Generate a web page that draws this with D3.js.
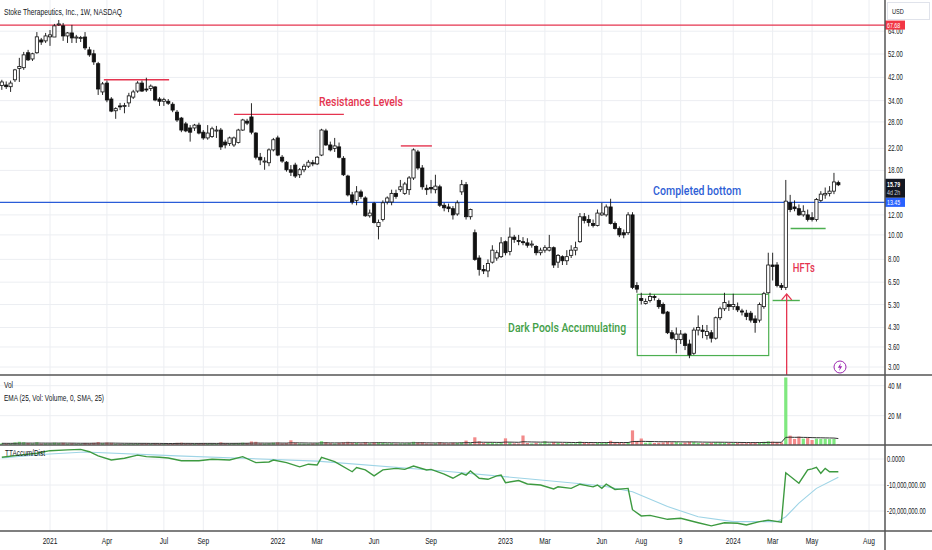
<!DOCTYPE html>
<html>
<head>
<meta charset="utf-8">
<script src="https://cdn.jsdelivr.net/npm/d3@7"></script>
<style>
  body { margin: 0; background: #fff; }
  svg { display: block; }
  text { font-family: "Liberation Sans", Arial, sans-serif; }
  .note { font-family: Roboto, "Liberation Sans", sans-serif; font-weight: 500; }
</style>
</head>
<body>
<svg id="chart" width="932" height="550"></svg>
<script>

// weekly bars, the first one is the week of 2020-10-19
var firstWeek = Date.UTC(2020, 9, 19)

// [open, high, low, close]
var candles = [
  [39.0,41.1,37.5,40.3],[39.2,40.5,37.8,38.6],[38.6,40.8,36.8,39.9],[41.1,45.4,40.3,45.0],[45.6,50.2,40.3,46.4],
  [45.9,53.0,45.0,51.6],[52.6,54.0,48.8,49.3],[49.7,52.6,48.8,52.1],[52.6,63.5,52.1,60.8],[59.1,60.2,56.5,58.0],
  [58.6,63.0,57.5,61.3],[60.8,64.7,56.0,61.9],[60.7,68.4,60.7,67.2],[67.8,70.9,67.2,68.4],[67.2,69.0,58.6,61.3],
  [61.3,63.5,57.5,63.0],[63.0,67.8,57.5,60.2],[60.2,61.9,57.5,60.7],[60.0,61.3,58.0,60.4],[60.7,63.5,54.0,55.0],
  [54.0,55.5,50.7,51.6],[52.1,54.0,47.1,48.4],[47.6,48.4,35.8,37.8],[36.8,40.3,35.8,39.6],[39.9,40.8,33.5,34.2],
  [34.5,35.1,30.6,30.9],[31.0,32.0,28.8,31.6],[32.4,33.3,31.2,32.3],[32.2,33.3,30.3,32.5],[33.3,36.5,32.1,35.5],
  [35.1,37.5,34.5,36.8],[37.1,40.6,36.5,39.9],[39.9,40.8,36.8,37.1],[37.8,41.9,36.8,37.6],[38.0,39.4,37.1,38.8],
  [38.5,38.8,33.8,34.2],[34.5,35.1,32.4,33.8],[33.8,34.9,32.4,34.3],[33.8,34.5,32.7,33.2],[32.9,33.5,30.6,31.2],
  [30.6,31.2,28.0,28.5],[29.0,29.3,25.5,26.0],[27.5,28.0,25.5,25.8],[26.5,27.2,23.4,25.5],[26.5,27.5,25.8,27.2],
  [27.2,27.8,25.0,25.3],[25.5,26.0,23.8,24.2],[24.2,27.2,23.8,25.3],[24.5,26.8,24.2,26.3],[25.8,27.0,24.2,26.0],
  [26.0,26.5,21.7,22.3],[23.3,23.8,22.0,22.7],[23.0,24.5,22.5,24.2],[22.7,24.5,22.3,24.2],[23.2,26.3,23.0,26.0],
  [26.0,28.8,25.8,28.5],[28.2,28.8,27.2,27.7],[29.3,33.2,25.0,25.5],[25.3,25.5,19.9,20.3],[20.3,21.1,18.9,19.8],
  [19.6,20.3,18.1,19.6],[19.3,22.0,18.7,21.7],[21.7,24.2,21.4,23.8],[24.2,24.7,20.5,20.7],[20.3,20.7,19.3,19.6],
  [19.4,19.6,17.8,18.1],[18.1,18.9,17.1,17.7],[18.9,19.3,16.8,17.1],[17.3,18.4,16.8,18.1],[18.1,19.1,17.7,18.7],
  [18.7,19.8,18.4,19.4],[19.3,19.8,18.7,19.1],[19.1,20.5,18.9,20.3],[20.7,26.3,20.5,26.0],[25.8,26.3,22.5,22.7],
  [22.7,23.4,21.4,21.7],[22.0,24.2,21.3,22.5],[22.3,23.2,20.1,20.3],[20.1,20.5,17.1,17.3],[17.1,17.3,14.2,14.4],
  [14.4,14.8,13.2,13.5],[13.7,15.6,13.1,14.8],[14.8,15.1,13.9,14.2],[14.0,14.2,11.8,11.9],[11.9,12.6,11.7,12.2],
  [13.3,13.5,11.1,11.2],[10.8,11.5,9.6,11.2],[11.5,13.7,11.3,13.4],[13.5,14.2,13.2,14.0],[13.5,15.1,13.1,14.6],
  [14.6,15.1,13.9,14.2],[15.1,16.5,14.8,15.5],[14.6,16.2,14.4,15.9],[15.1,17.1,14.4,16.8],[16.8,22.0,16.5,21.7],
  [21.3,21.7,18.1,18.4],[18.4,18.9,15.1,15.5],[15.3,15.8,14.4,15.1],[15.4,16.5,14.6,15.2],[15.1,17.3,14.6,15.6],
  [15.5,15.8,12.9,13.1],[13.1,13.4,12.4,12.8],[12.9,13.3,12.3,12.7],[12.7,13.0,11.5,12.0],[12.1,13.7,11.9,13.4],
  [14.8,16.5,14.4,15.8],[15.8,16.2,11.5,11.8],[11.8,12.7,11.5,12.6],[10.2,10.5,7.9,8.0],[8.1,8.3,6.9,7.3],
  [7.3,7.6,7.0,7.2],[7.2,8.0,6.8,7.7],[7.8,9.1,7.7,8.7],[8.1,8.7,7.9,8.5],[8.2,9.8,8.1,9.3],
  [9.4,9.5,8.3,8.5],[8.6,10.7,8.3,9.8],[9.8,10.0,9.3,9.6],[9.5,10.0,9.1,9.45],[9.4,9.8,9.1,9.35],
  [9.3,9.7,8.9,9.1],[9.2,9.5,8.9,9.2],[9.0,9.1,8.3,8.5],[8.5,8.9,8.3,8.7],[8.7,9.1,8.5,8.9],
  [8.7,10.0,8.6,8.9],[8.9,9.0,7.4,7.6],[7.8,8.4,7.4,8.3],[8.2,8.3,7.6,7.9],[7.9,8.7,7.6,8.2],
  [8.3,9.1,8.1,8.7],[8.7,9.4,8.3,8.9],[9.4,12.2,9.3,11.8],[11.8,12.2,11.1,11.4],[11.5,12.0,10.8,11.2],
  [11.1,11.5,10.7,10.9],[10.9,12.6,10.8,12.2],[12.0,13.4,11.9,12.2],[12.0,13.2,11.8,12.9],[12.9,13.9,11.0,11.1],
  [11.1,11.3,10.5,10.6],[10.6,10.8,9.8,10.0],[10.2,10.5,9.7,10.0],[10.2,12.3,10.0,12.0],[12.0,12.3,6.1,6.2],
  [6.3,6.5,5.9,6.1],[5.6,5.9,5.3,5.5],[5.35,5.6,5.3,5.45],[5.5,5.9,5.4,5.7],[5.7,5.8,5.5,5.65],
  [5.5,5.6,5.1,5.2],[5.3,5.4,4.85,4.9],[4.95,5.0,4.05,4.1],[4.1,4.2,3.85,3.9],[3.85,4.3,3.4,4.05],
  [3.85,4.2,3.7,4.05],[4.05,4.1,3.5,3.65],[3.7,3.85,3.25,3.35],[3.4,4.3,3.35,4.2],[4.2,4.8,4.0,4.3],
  [4.2,4.4,3.9,4.15],[4.0,4.4,3.85,4.15],[4.1,4.2,3.75,3.9],[3.9,4.75,3.85,4.7],[4.7,5.2,4.6,5.1],
  [5.1,5.9,5.0,5.4],[5.3,5.5,5.0,5.2],[5.2,5.85,5.05,5.3],[5.2,5.4,4.95,5.05],[5.0,5.1,4.8,4.95],
  [4.9,5.05,4.6,4.75],[4.9,5.0,4.5,4.6],[4.65,4.8,4.1,4.5],[4.6,5.4,4.5,5.3],[5.2,5.95,5.1,5.85],
  [5.9,8.5,5.85,7.6],[7.6,8.5,6.6,7.5],[7.6,7.8,6.2,6.3],[6.3,6.45,6.05,6.2],[6.2,16.5,6.05,13.6],
  [13.4,14.4,12.3,12.6],[12.9,13.7,12.4,12.7],[12.7,13.2,11.9,12.0],[12.0,13.1,11.8,12.4],[12.0,12.6,11.3,11.5],
  [11.7,12.3,11.3,11.5],[11.5,14.0,11.3,13.8],[13.7,14.9,13.5,14.5],[14.4,15.4,13.9,14.6],[14.6,15.6,14.2,14.9],
  [14.9,17.6,14.5,16.2],[16.1,16.4,15.6,15.79]
]

// weekly volume, millions
var volumes = [
  1.6,1.3,1.4,2.2,2.6,2.3,1.8,1.5,2.3,1.4, 1.6,1.5,2.0,1.7,1.9,1.3,1.6,1.2,1.1,1.8,
  1.5,1.9,2.4,1.6,2.1,1.9,1.3,1.1,1.2,1.4, 1.3,1.5,1.4,1.6,1.2,1.7,1.3,1.1,1.2,1.5,
  1.9,2.0,1.6,1.5,1.3,1.5,1.7,1.6,1.5,1.3, 2.2,1.5,1.4,1.6,1.8,2.0,1.7,2.8,2.6,1.6,
  1.4,1.6,2.0,2.2,1.5,1.7,3.6,2.0,1.5,1.4, 1.3,1.5,1.7,3.0,2.4,1.7,1.4,1.9,2.3,2.6,
  2.0,1.9,1.5,2.4,1.6,2.2,2.3,2.0,1.6,1.7, 1.4,1.5,1.6,1.9,2.6,2.2,2.3,1.5,1.4,1.6,
  2.4,1.7,1.5,2.0,1.9,2.3,3.4,1.7,5.6,3.0, 1.9,2.0,2.2,1.6,2.0,4.9,2.2,1.6,1.5,6.8,
  1.8,1.5,2.0,1.6,3.0,1.5,2.4,1.9,1.6,1.7, 1.5,1.6,2.8,2.1,1.7,1.5,2.0,1.9,2.2,3.3,
  2.0,1.9,1.6,2.4,10.2,3.2,4.8,2.0,2.2,1.8, 2.0,2.2,2.8,2.3,2.4,2.0,2.1,2.6,2.4,1.9,
  1.7,1.8,2.0,2.3,2.2,2.0,1.8,1.7,1.9,1.6, 1.7,1.8,1.9,2.4,2.6,3.0,2.7,2.4,2.2,45.5,
  6.7,4.5,6.1,4.7,5.1,3.8,4.7,4.5,4.6,4.4, 4.5,0.9
]

// TTAccum/Dist, [week index, millions]
var accum = [
  [0,0.65],[4,1.5],[8,2.2],[11,3.2],[15,3.5],[18,3.7],[20,2.8],[22,1.2],[25,-0.4],[28,0.3],
  [31,1.5],[33,0.9],[36,0.65],[38,0.4],[41,-0.65],[45,-0.65],[48,-0.1],[52,-0.4],[55,0.9],[58,-1.4],
  [61,-1.15],[62,-0.4],[65,-1.4],[68,-3.0],[70,-2.0],[72,-2.3],[73,0.65],[76,-1.0],[80,-4.9],[81,-3.3],
  [83,-4.2],[85,-6.5],[87,-4.2],[90,-3.6],[92,-4.0],[94,-2.7],[97,-4.2],[98,-4.0],[101,-5.8],[103,-7.4],
  [105,-5.5],[106,-6.2],[107,-4.6],[109,-7.4],[111,-7.8],[113,-6.5],[114,-6.2],[115,-9.1],[118,-8.3],[120,-9.6],
  [123,-10.0],[126,-11.5],[127,-10.7],[130,-11.3],[132,-9.7],[135,-10.7],[136,-10.0],[137,-11.3],[138,-9.7],[140,-11.7],
  [143,-11.3],[144,-19.5],[146,-21.9],[148,-21.7],[152,-23.2],[155,-22.8],[159,-24.5],[162,-25.7],[165,-24.5],[168,-24.7],
  [170,-25.4],[173,-24.1],[175,-23.5],[178,-24.3],[179,-5.3],[182,-9.3],[184,-4.2],[185,-3.8],[186,-3.2],[187,-5.5],
  [188,-3.6],[189,-4.9],[191,-4.9]
]

// its slow average (light blue)
var accumAvg = [
  [0,0.4],[10,1.8],[19,2.7],[40,1.2],[72,-0.8],[100,-4.5],[120,-7.6],[137,-10.3],[144,-12.6],[152,-18.3],
  [159,-22.2],[167,-24.1],[177,-24.1],[179,-22.2],[182,-17.0],[186,-11.3],[191,-7.0]
]

var priceTicks = [64, 52, 42, 34, 28, 22, 18, 12, 10, 8, 6.5, 5.3, 4.3, 3.6, 3.0]
var volTicks = [40, 20]
var accumTicks = [0, -10, -20]
var timeTicks = [
  [[2021,0,4],"2021"],[[2021,3,5],"Apr"],[[2021,6,5],"Jul"],[[2021,8,6],"Sep"],
  [[2022,0,3],"2022"],[[2022,2,7],"Mar"],[[2022,5,6],"Jun"],[[2022,8,5],"Sep"],
  [[2023,0,2],"2023"],[[2023,2,6],"Mar"],[[2023,5,5],"Jun"],[[2023,7,7],"Aug"],[[2023,9,9],"9"],
  [[2024,0,1],"2024"],[[2024,2,4],"Mar"],[[2024,4,6],"May"],[[2024,7,5],"Aug"]
]

// drawn levels and notes: week index + price
var topLevel = 67.68
var bottomLevel = 13.45
var lastPrice = 15.79
var resistance = [[23.3, 38.2, 41.1], [53, 78.1, 30.0], [91.1, 98.2, 22.5]]
var supports = [[176, 182.2, 5.5], [180.1, 188.1, 10.6]]
var accumBox = [145.1, 175.1, 5.82, 3.33]
var arrowWeek = 179.2, arrowTip = 5.84
var notes = [
  {text: "Resistance Levels", week: 72.4, price: 32.4, w: 84, color: "#e5344f"},
  {text: "Completed bottom", week: 148.7, price: 14.4, w: 88, color: "#2f5fd6"},
  {text: "HFTs", week: 180.6, price: 7.1, w: 22, color: "#e5344f"},
  {text: "Dark Pools Accumulating", week: 115.6, price: 4.13, w: 118, color: "#43a047"}
]

var svg = d3.select("#chart")
var axisX = 885, W = 932
var red = "#e5344f", blue = "#2a5cd8", green = "#4caf50"

var x = d3.scaleUtc().domain([Date.UTC(2021,0,4), Date.UTC(2024,7,5)]).range([50, 869])
var y = d3.scaleLog().domain([3, 52]).range([367, 54])
var yv = d3.scaleLinear().domain([0, 40]).range([445.7, 385.7])
var ya = d3.scaleLinear().domain([0, -20]).range([459, 511])

function wx(i) { return x(new Date(firstWeek + i * 7 * 864e5)) }

function label(g, str, px, py, o) {
  var t = g.append("text").text(str)
    .attr("transform", "translate(" + px + "," + py + ") scale(" + (o.sx || 0.74) + ",1)")
    .style("font-size", o.size + "px")
    .attr("fill", o.color || "#131722")
  if (o.anchor) t.attr("text-anchor", o.anchor)
  if (o.weight) t.style("font-weight", o.weight)
  return t
}

function fitted(g, str, px, py, o) {
  return g.append("text").text(str).attr("x", px).attr("y", py)
    .attr("textLength", o.w).attr("lengthAdjust", "spacingAndGlyphs")
    .style("font-size", o.size + "px").attr("fill", o.color || "#131722")
}

// clips for the three panes
var defs = svg.append("defs")
defs.append("clipPath").attr("id", "cMain").append("rect").attr("x", 0).attr("y", 0).attr("width", axisX).attr("height", 375)
defs.append("clipPath").attr("id", "cVol").append("rect").attr("x", 0).attr("y", 375).attr("width", axisX).attr("height", 70)
defs.append("clipPath").attr("id", "cAcc").append("rect").attr("x", 0).attr("y", 445).attr("width", axisX).attr("height", 86)

// grid
var grid = svg.append("g").attr("stroke", "#eceef2").attr("stroke-width", 1)
timeTicks.forEach(function(d) {
  var tx = x(new Date(Date.UTC(d[0][0], d[0][1], d[0][2])))
  grid.append("line").attr("x1", tx).attr("x2", tx).attr("y1", 0).attr("y2", 531)
})
priceTicks.forEach(function(p) {
  grid.append("line").attr("x1", 0).attr("x2", axisX).attr("y1", y(p)).attr("y2", y(p))
})
volTicks.forEach(function(v) {
  grid.append("line").attr("x1", 0).attr("x2", axisX).attr("y1", yv(v)).attr("y2", yv(v))
})
accumTicks.forEach(function(v) {
  grid.append("line").attr("x1", 0).attr("x2", axisX).attr("y1", ya(v)).attr("y2", ya(v))
})

// *** main pane ***
var main = svg.append("g").attr("clip-path", "url(#cMain)")

main.append("line").attr("x1", 0).attr("x2", axisX).attr("y1", y(topLevel)).attr("y2", y(topLevel))
  .attr("stroke", red).attr("stroke-width", 1.4)
main.append("line").attr("x1", 0).attr("x2", axisX).attr("y1", y(bottomLevel)).attr("y2", y(bottomLevel))
  .attr("stroke", blue).attr("stroke-width", 1.4)

resistance.forEach(function(d) {
  main.append("line").attr("x1", wx(d[0])).attr("x2", wx(d[1])).attr("y1", y(d[2])).attr("y2", y(d[2]))
    .attr("stroke", red).attr("stroke-width", 1.4)
})
supports.forEach(function(d) {
  main.append("line").attr("x1", wx(d[0])).attr("x2", wx(d[1])).attr("y1", y(d[2])).attr("y2", y(d[2]))
    .attr("stroke", green).attr("stroke-width", 1.4)
})
main.append("rect")
  .attr("x", wx(accumBox[0])).attr("y", y(accumBox[2]))
  .attr("width", wx(accumBox[1]) - wx(accumBox[0])).attr("height", y(accumBox[3]) - y(accumBox[2]))
  .attr("fill", "none").attr("stroke", green).attr("stroke-width", 1.2)

// candles
var bars = main.selectAll(".candle").data(candles).enter().append("g").attr("class", "candle")
bars.append("line")
  .attr("x1", function(d, i) { return wx(i) }).attr("x2", function(d, i) { return wx(i) })
  .attr("y1", function(d) { return y(d[1]) }).attr("y2", function(d) { return y(d[2]) })
  .attr("stroke", "#111").attr("stroke-width", 0.9)
bars.append("rect")
  .attr("x", function(d, i) { return wx(i) - 1.6 })
  .attr("width", 3.2)
  .attr("y", function(d) { return y(Math.max(d[0], d[3])) })
  .attr("height", function(d) { return Math.max(1, Math.abs(y(d[0]) - y(d[3]))) })
  .attr("fill", function(d) { return d[3] >= d[0] ? "#fff" : "#111" })
  .attr("stroke", "#111").attr("stroke-width", 0.8)

// arrow under the breakout week
var ax = wx(arrowWeek), ay = y(arrowTip)
main.append("line").attr("x1", ax).attr("x2", ax).attr("y1", ay).attr("y2", 375)
  .attr("stroke", red).attr("stroke-width", 1.3)
main.append("path").attr("d", "M" + (ax - 5) + "," + (ay + 6) + "L" + ax + "," + ay + "L" + (ax + 5) + "," + (ay + 6))
  .attr("fill", "none").attr("stroke", red).attr("stroke-width", 1.3)

notes.forEach(function(n) {
  fitted(main, n.text, wx(n.week), y(n.price), {w: n.w, size: 13, color: n.color}).attr("class", "note")
})

// lightning badge
var badge = main.append("g").attr("transform", "translate(840,367)")
badge.append("circle").attr("r", 6).attr("fill", "#fff").attr("stroke", "#9c27b0").attr("stroke-width", 1)
badge.append("path").attr("d", "M0.9,-3.9 L-2.2,0.7 L-0.1,0.7 L-0.9,3.9 L2.2,-0.7 L0.1,-0.7 Z").attr("fill", "#9c27b0")

fitted(svg, "Stoke Therapeutics, Inc., 1W, NASDAQ", 4, 15, {w: 118, size: 8.5})

// *** volume pane ***
var vol = svg.append("g").attr("clip-path", "url(#cVol)")
vol.selectAll(".vbar").data(volumes).enter().append("rect").attr("class", "vbar")
  .attr("x", function(d, i) { return wx(i) - 1.6 })
  .attr("width", 3.2)
  .attr("y", function(d) { return yv(d) })
  .attr("height", function(d) { return yv(0) - yv(d) })
  .attr("fill", function(d, i) { return candles[i][3] >= candles[i][0] ? "#7fe87f" : "#f28a8a" })

var ema = [], k = 2 / 26
volumes.forEach(function(v, i) { ema.push(i == 0 ? v : ema[i - 1] + k * (v - ema[i - 1])) })
vol.append("path").datum(ema)
  .attr("d", d3.line().x(function(d, i) { return wx(i) }).y(function(d) { return yv(d) }))
  .attr("fill", "none").attr("stroke", "#333").attr("stroke-width", 1)

fitted(svg, "Vol", 4, 388, {w: 9, size: 8.5})
fitted(svg, "EMA (25, Vol: Volume, 0, SMA, 25)", 4, 401, {w: 100, size: 8.5})

// *** accumulation / distribution pane ***
var acc = svg.append("g").attr("clip-path", "url(#cAcc)")
var aline = d3.line().x(function(d) { return wx(d[0]) }).y(function(d) { return ya(d[1]) })
acc.append("path").datum(accumAvg).attr("d", aline)
  .attr("fill", "none").attr("stroke", "#9ed4e6").attr("stroke-width", 1.1)
acc.append("path").datum(accum).attr("d", aline)
  .attr("fill", "none").attr("stroke", "#3d9a40").attr("stroke-width", 1.4)

fitted(svg, "TTAccum/Dist", 5, 456, {w: 40, size: 8.5})

// *** axes ***
svg.append("rect").attr("x", axisX).attr("y", 0).attr("width", W - axisX).attr("height", 550).attr("fill", "#fff")
svg.append("rect").attr("x", 0).attr("y", 531).attr("width", axisX).attr("height", 19).attr("fill", "#fff")

var axes = svg.append("g")
priceTicks.forEach(function(p) {
  label(axes, p.toFixed(2), 888, y(p) + 3, {size: 8.5, sx: 0.7})
})
volTicks.forEach(function(v) {
  label(axes, v + " M", 888, yv(v) + 3, {size: 8.5, sx: 0.7})
})
accumTicks.forEach(function(v) {
  var s = v == 0 ? "0.0000" : d3.format(",.2f")(v * 1e6).replace("\u2212", "-")
  label(axes, s, 887, ya(v) + 3, {size: 8.5, sx: 0.68})
})
timeTicks.forEach(function(d) {
  var tx = x(new Date(Date.UTC(d[0][0], d[0][1], d[0][2])))
  label(axes, d[1], tx, 544, {size: 8.5, anchor: "middle", sx: 0.78})
})

// price labels on the scale
function tag(p, fill) {
  var ty = y(p)
  axes.append("rect").attr("x", axisX).attr("y", ty - 4.5).attr("width", 20).attr("height", 9).attr("fill", fill)
  label(axes, p.toFixed(2), axisX + 2, ty + 2.8, {size: 7.5, color: "#fff", sx: 0.7})
}
tag(topLevel, "#f23645")
var ly = y(lastPrice)
axes.append("rect").attr("x", axisX).attr("y", ly - 6).attr("width", 20).attr("height", 19).attr("fill", "#131722")
label(axes, lastPrice.toFixed(2), axisX + 2, ly + 2, {size: 7.5, color: "#fff", sx: 0.7, weight: "bold"})
label(axes, "4d 2h", axisX + 2, ly + 10.5, {size: 7.5, color: "#d1d4dc", sx: 0.7})
tag(bottomLevel, "#2962ff")

axes.append("rect").attr("x", 887.5).attr("y", 2.5).attr("width", 42).attr("height", 17)
  .attr("fill", "#fff").attr("stroke", "#e0e3eb")
label(axes, "USD", 892, 14, {size: 7.5, sx: 0.75})

// pane borders
var borders = svg.append("g").attr("stroke", "#555").attr("stroke-width", 1.5)
borders.append("line").attr("x1", axisX).attr("x2", axisX).attr("y1", 0).attr("y2", 550)
;[375, 445, 531].forEach(function(by) {
  borders.append("line").attr("x1", 0).attr("x2", W).attr("y1", by).attr("y2", by)
})

</script>
</body>
</html>
